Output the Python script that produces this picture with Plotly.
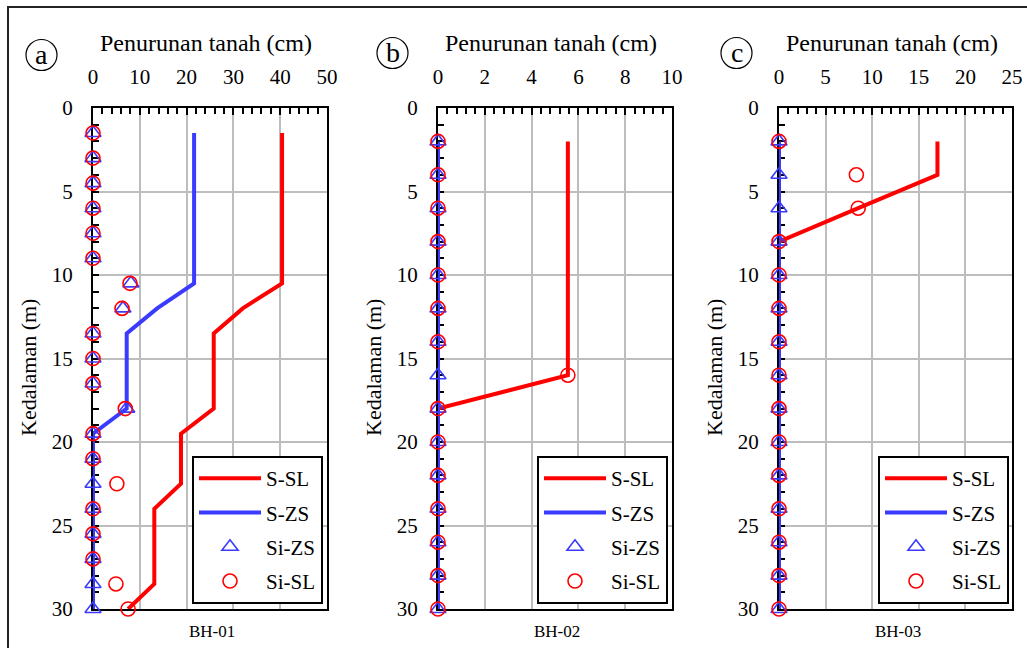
import plotly.graph_objects as go

# ---- data: settlement (cm) vs depth (m) for three boreholes ----
DEPTH_A = [1.5, 3, 4.5, 6, 7.5, 9, 10.5, 12, 13.5, 15, 16.5, 18, 19.5, 21, 22.5, 24, 25.5, 27, 28.5, 30]
S_SL_A = [40.4, 40.4, 40.4, 40.4, 40.4, 40.4, 40.4, 32.0, 25.8, 25.8, 25.8, 25.8, 18.8, 18.8, 18.8, 13.1, 13.1, 13.1, 13.1, 7.5]
S_ZS_A = [21.6, 21.6, 21.6, 21.6, 21.6, 21.6, 21.6, 13.7, 7.2, 7.2, 7.2, 7.2, 0, 0, 0, 0, 0, 0, 0, 0]
SI_ZS_A = [0, 0, 0, 0, 0, 0, 8.1, 6.4, 0, 0, 0, 7.2, 0, 0, 0, 0, 0, 0, 0, 0]
SI_SL_A = [0, 0, 0, 0, 0, 0, 7.9, 6.2, 0, 0, 0, 6.9, 0, 0, 5.1, 0, 0, 0, 4.9, 7.5]

DEPTH_B = [2, 4, 6, 8, 10, 12, 14, 16, 18, 20, 22, 24, 26, 28, 30]
S_SL_B = [5.55, 5.55, 5.55, 5.55, 5.55, 5.55, 5.55, 5.55, 0, 0, 0, 0, 0, 0, 0]
S_ZS_B = [0] * 15
SI_ZS_B = [0] * 15
SI_SL_B = [0, 0, 0, 0, 0, 0, 0, 5.55, 0, 0, 0, 0, 0, 0, 0]

DEPTH_C = [2, 4, 6, 8, 10, 12, 14, 16, 18, 20, 22, 24, 26, 28, 30]
S_SL_C = [17.0, 17.0, 8.5, 0, 0, 0, 0, 0, 0, 0, 0, 0, 0, 0, 0]
S_ZS_C = [0] * 15
SI_ZS_C = [0] * 15
SI_SL_C = [0, 8.3, 8.5, 0, 0, 0, 0, 0, 0, 0, 0, 0, 0, 0, 0]

PANELS = [
    dict(key="", letter="a", name="BH-01", depth=DEPTH_A, ssl=S_SL_A, szs=S_ZS_A, sizs=SI_ZS_A, sisl=SI_SL_A,
         xmax=50, dtick=10, minor=2, x0=93, x1=327, legend="legend"),
    dict(key="2", letter="b", name="BH-02", depth=DEPTH_B, ssl=S_SL_B, szs=S_ZS_B, sizs=SI_ZS_B, sisl=SI_SL_B,
         xmax=10, dtick=2, minor=0.4, x0=438, x1=672, legend="legend2"),
    dict(key="3", letter="c", name="BH-03", depth=DEPTH_C, ssl=S_SL_C, szs=S_ZS_C, sizs=SI_ZS_C, sisl=SI_SL_C,
         xmax=25, dtick=5, minor=1, x0=779, x1=1012, legend="legend3"),
]

W, H = 1027, 648
TOP, BOTTOM = 108, 609
FONT = "'Liberation Serif', 'Times New Roman', 'DejaVu Serif', serif"
RED = "#ff0000"
BLUE = "#3b3bff"


def px(x):
    return x / W


def py(y):
    return 1 - y / H


fig = go.Figure()

for p in PANELS:
    xa = "x" + p["key"]
    ya = "y" + p["key"]
    common = dict(xaxis=xa, yaxis=ya, legend=p["legend"], cliponaxis=False)
    fig.add_trace(go.Scatter(x=p["ssl"], y=p["depth"], mode="lines", name="S-SL",
                             line=dict(color=RED, width=4), legendgroup="g1", legendrank=1, **common))
    fig.add_trace(go.Scatter(x=p["szs"], y=p["depth"], mode="lines", name="S-ZS",
                             line=dict(color=BLUE, width=4), legendgroup="g2", legendrank=2, **common))
    fig.add_trace(go.Scatter(x=p["sizs"], y=p["depth"], mode="markers", name="Si-ZS",
                             marker=dict(symbol="triangle-up-open", size=14, color=BLUE, line=dict(width=1.6)),
                             legendgroup="g3", legendrank=3, **common))
    fig.add_trace(go.Scatter(x=p["sisl"], y=p["depth"], mode="markers", name="Si-SL",
                             marker=dict(symbol="circle-open", size=14, color=RED, line=dict(width=1.6)),
                             legendgroup="g4", legendrank=4, **common))

    tick_font = dict(family=FONT, size=21, color="black")
    fig.update_layout(**{
        "xaxis" + p["key"]: dict(
            domain=[px(p["x0"]), px(p["x1"])], anchor=ya, side="top", automargin=False,
            range=[0, p["xmax"]], dtick=p["dtick"], tick0=0,
            showline=True, mirror=True, linecolor="black", linewidth=2,
            showgrid=True, gridcolor="#bdbdbd", gridwidth=2, zeroline=False,
            ticks="inside", ticklen=7, tickwidth=1.5, tickcolor="black",
            minor=dict(ticks="inside", dtick=p["minor"], ticklen=6, tickwidth=1.5,
                       tickcolor="black", showgrid=False),
            tickfont=tick_font, ticklabelstandoff=14, layer="below traces",
        ),
        "yaxis" + p["key"]: dict(
            domain=[py(BOTTOM), py(TOP)], anchor=xa, automargin=False,
            range=[30, 0], dtick=5, tick0=0,
            showline=True, mirror=True, linecolor="black", linewidth=2,
            showgrid=True, gridcolor="#bdbdbd", gridwidth=2, zeroline=False,
            ticks="inside", ticklen=6, tickwidth=1.5, tickcolor="black",
            minor=dict(ticks="inside", dtick=1, ticklen=6, tickwidth=1.5,
                       tickcolor="black", showgrid=False),
            tickfont=tick_font, ticklabelstandoff=14, layer="below traces",
        ),
        p["legend"]: dict(
            x=px(p["x0"] + 99), y=py(456), xanchor="left", yanchor="top",
            bgcolor="white", bordercolor="black", borderwidth=2,
            font=dict(family=FONT, size=21, color="black"),
            itemwidth=62, tracegroupgap=4, traceorder="grouped",
        ),
    })

    # axis titles
    fig.add_annotation(x=px((p["x0"] + p["x1"]) / 2 - 4), y=py(43), xref="paper", yref="paper",
                       xanchor="center", yanchor="middle", showarrow=False,
                       text="Penurunan tanah (cm)", font=dict(family=FONT, size=24, color="black"))
    fig.add_annotation(x=px(p["x0"] - 65), y=py(368), xref="paper", yref="paper",
                       xanchor="center", yanchor="middle", showarrow=False, textangle=-90,
                       text="Kedalaman (m)", font=dict(family=FONT, size=22, color="black"))

    # borehole caption under each panel
    fig.add_annotation(x=px((p["x0"] + p["x1"]) / 2 + 2), y=py(631), xref="paper", yref="paper",
                       xanchor="center", yanchor="middle",
                       text=p["name"], showarrow=False, font=dict(family=FONT, size=17, color="black"))

# circled panel letters
for cx, cy, letter in [(41.5, 55, "a"), (392.5, 53, "b"), (736.5, 53, "c")]:
    fig.add_shape(type="circle", xref="paper", yref="paper",
                  x0=px(cx - 15.5), x1=px(cx + 15.5), y0=py(cy + 15.5), y1=py(cy - 15.5),
                  line=dict(color="black", width=1.2))
    fig.add_annotation(x=px(cx), y=py(cy - 1), xref="paper", yref="paper", text=letter,
                       xanchor="center", yanchor="middle",
                       showarrow=False, font=dict(family=FONT, size=28, color="black"))

# outer frame
fig.add_shape(type="rect", xref="paper", yref="paper",
              x0=px(8), x1=px(W + 10), y0=py(H + 10), y1=py(7),
              line=dict(color="#222222", width=2))

fig.update_layout(
    width=W, height=H, margin=dict(l=0, r=0, t=0, b=0, autoexpand=False),
    paper_bgcolor="white", plot_bgcolor="white", showlegend=True,
    font=dict(family=FONT, color="black"),
)

fig.write_html("out.html")
